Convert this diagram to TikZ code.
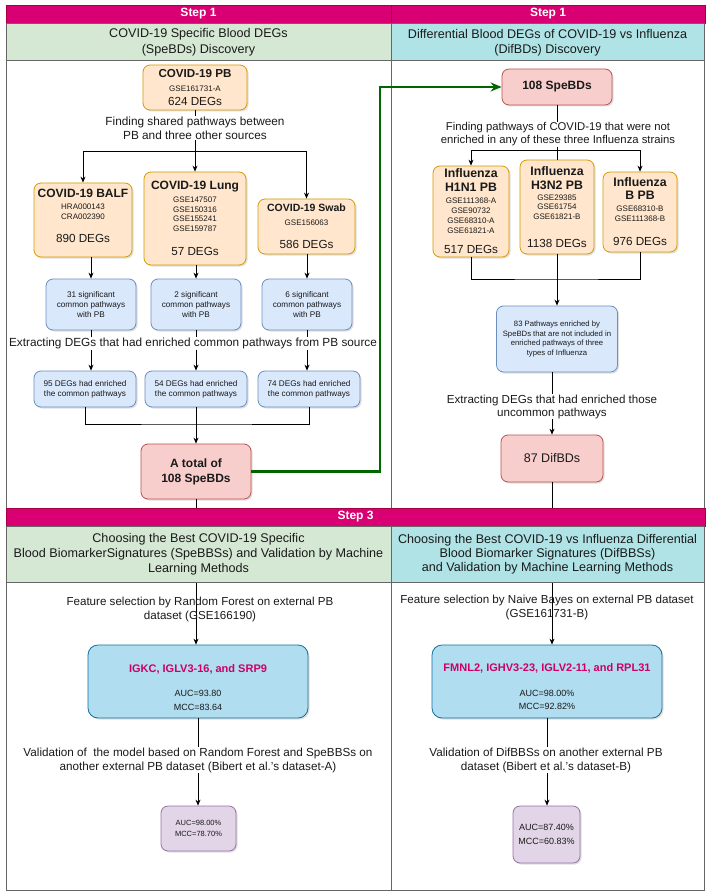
\documentclass[tikz,border=0pt]{standalone}
\usepackage{fontspec}
\setmainfont{Liberation Sans}
\usetikzlibrary{arrows.meta,shadows}
\newcommand\fsz[2]{\fontsize{#1}{#2}\selectfont}
\newcommand\gsm{\fsz{8}{0}}
\newcommand\ttl{\bfseries\fsz{12.3}{0}}
\definecolor{stepc}{HTML}{D80073}
\definecolor{stepd}{HTML}{A50040}
\definecolor{grnF}{HTML}{D5E8D4}
\definecolor{tealF}{HTML}{B0E3E6}
\definecolor{orgF}{HTML}{FFE6CC}
\definecolor{orgD}{HTML}{D79B00}
\definecolor{bluF}{HTML}{DAE8FC}
\definecolor{bluD}{HTML}{6C8EBF}
\definecolor{redF}{HTML}{F8CECC}
\definecolor{redD}{HTML}{B85450}
\definecolor{purF}{HTML}{E1D5E7}
\definecolor{purD}{HTML}{9673A6}
\definecolor{cyaF}{HTML}{B1DDF0}
\definecolor{cyaD}{HTML}{10739E}
\definecolor{pinkT}{HTML}{CC0066}
\definecolor{grnA}{HTML}{006600}
\definecolor{frameC}{HTML}{666666}
\definecolor{txtC}{HTML}{1A1A1A}
\pgfdeclarelayer{fg}
\pgfsetlayers{main,fg}
\begin{document}
\begin{tikzpicture}[x=1pt,y=-1pt,
  box/.style={rounded corners=7pt, line width=0.8pt, align=center, inner sep=0pt,
    drop shadow={shadow xshift=1.5pt,shadow yshift=-1.5pt,opacity=0.25},
    font={\fsz{11.7}{0}\lineskiplimit=-100pt}, text=txtC},
  orange/.style={box, draw=orgD, fill=orgF},
  blue/.style={box, draw=bluD, fill=bluF, font={\fsz{8.2}{10}}},
  red/.style={box, draw=redD, fill=redF},
  purple/.style={box, draw=purD, fill=purF},
  cyan/.style={box, draw=cyaD, fill=cyaF, rounded corners=10pt},
  lbl/.style={align=center, inner sep=1pt, text=txtC},
  wlbl/.style={lbl, fill=white},
  ln/.style={draw=black, line width=0.8pt},
  arr/.style={draw=black, line width=0.8pt, -{Stealth[length=6pt,width=5pt]}},
  garr/.style={draw=grnA, line width=2.2pt, -{Stealth[length=11pt,width=9pt]}},
  stepbar/.style={fill=stepc, draw=stepd, line width=0.4pt, text=white, font={\fsz{12}{14}\bfseries}, inner sep=0pt},
  hdr/.style={draw=frameC, line width=0.6pt, align=center, inner sep=0pt, text=txtC},
  panel/.style={draw=frameC, line width=0.8pt}]
\useasboundingbox (0,0) rectangle (708,893);
\fill[white] (0,0) rectangle (708,893);

% panels
\draw[panel] (6,60) rectangle (391,508);
\draw[panel] (391,60) rectangle (704,508);
\draw[panel] (6,582) rectangle (391,890);
\draw[panel] (391,582) rectangle (704,890);

% headers
\begin{pgfonlayer}{fg}
\node[stepbar, minimum width=385pt, minimum height=18pt] (s1L) at (198.5,14) {Step 1};
\node[stepbar, minimum width=314pt, minimum height=18pt] (s1R) at (548,14) {Step 1};
\node[hdr, fill=grnF, minimum width=385pt, minimum height=37pt, font=\fsz{12.6}{16}, text height=27.5pt, text depth=2.7pt] (h1L) at (198.5,41.5) {COVID-19 Specific Blood DEGs\\(SpeBDs) Discovery};
\node[hdr, fill=tealF, minimum width=313pt, minimum height=37pt, font=\fsz{12.6}{15}, text height=26pt, text depth=2.7pt] (h1R) at (547.5,41.5) {Differential Blood DEGs of COVID-19 vs Influenza\\(DifBDs) Discovery};
\node[stepbar, minimum width=699pt, minimum height=18pt] (s3) at (355.5,517) {Step 3};
\node[hdr, fill=grnF, minimum width=385pt, minimum height=56pt, font=\fsz{12.6}{15}] (h3L) at (198.5,554) {Choosing the Best COVID-19 Specific\\Blood BiomarkerSignatures (SpeBBSs) and Validation by Machine\\Learning Methods};
\node[hdr, fill=tealF, minimum width=313pt, minimum height=56pt, font=\fsz{12.6}{14}] (h3R) at (547.5,554) {Choosing the Best COVID-19 vs Influenza Differential\\Blood Biomarker Signatures (DifBBSs)\\and Validation by Machine Learning Methods};
\end{pgfonlayer}

% left column boxes
\node[orange, minimum width=104pt, minimum height=45pt] (PB) at (195,87.5) {{\bfseries\fsz{11.6}{0}COVID-19 PB}\\[14pt]{\gsm GSE161731-A}\\[14pt]624 DEGs};
\node[orange, minimum width=98pt, minimum height=74pt, text depth=9pt] (BALF) at (83,220) {{\bfseries\fsz{12}{0}COVID-19 BALF}\\[12pt]{\gsm HRA000143}\\[10pt]{\gsm CRA002390}\\[23pt]890 DEGs};
\node[orange, minimum width=102pt, minimum height=93pt] (Lung) at (195,218.5) {{\bfseries\fsz{12}{0}COVID-19 Lung}\\[13pt]{\gsm GSE147507}\\[9.5pt]{\gsm GSE150316}\\[9.5pt]{\gsm GSE155241}\\[9.5pt]{\gsm GSE159787}\\[24pt]57 DEGs};
\node[orange, minimum width=97pt, minimum height=55pt] (Swab) at (306.5,226.5) {{\bfseries\fsz{10.5}{0}COVID-19 Swab}\\[14pt]{\gsm GSE156063}\\[23pt]586 DEGs};

\node[blue, minimum width=90pt, minimum height=51pt] (B1) at (91,304.5) {31 significant\\common pathways\\with PB};
\node[blue, minimum width=90pt, minimum height=51pt] (B2) at (196,304.5) {2 significant\\common pathways\\with PB};
\node[blue, minimum width=90pt, minimum height=51pt] (B3) at (307,304.5) {6 significant\\common pathways\\with PB};

\node[blue, minimum width=102pt, minimum height=36pt] (C1) at (85,389) {95 DEGs had enriched\\the common pathways};
\node[blue, minimum width=102pt, minimum height=36pt] (C2) at (196,389) {54 DEGs had enriched\\the common pathways};
\node[blue, minimum width=102pt, minimum height=36pt] (C3) at (309,389) {74 DEGs had enriched\\the common pathways};

\node[red, minimum width=110pt, minimum height=55pt, font={\fsz{12}{15}\bfseries}] (Tot) at (196,471.5) {A total of\\108 SpeBDs};

% right column boxes
\node[red, minimum width=110pt, minimum height=36pt, font={\fsz{12}{14}\bfseries}] (Sp) at (557,87) {108 SpeBDs};
\node[orange, minimum width=76pt, minimum height=91pt] (H1) at (471,211.5) {{\ttl Influenza}\\[14pt]{\ttl H1N1 PB}\\[12pt]{\gsm GSE111368-A}\\[10pt]{\gsm GSE90732}\\[10pt]{\gsm GSE68310-A}\\[10pt]{\gsm GSE61821-A}\\[20pt]517 DEGs};
\node[orange, minimum width=74pt, minimum height=94pt] (H3) at (557,207) {{\ttl Influenza}\\[14pt]{\ttl H3N2 PB}\\[11pt]{\gsm GSE29385}\\[9.5pt]{\gsm GSE61754}\\[9.5pt]{\gsm GSE61821-B}\\[28pt]1138 DEGs};
\node[orange, minimum width=74pt, minimum height=80pt] (BP) at (640,212) {{\ttl Influenza}\\[13pt]{\ttl B PB}\\[12pt]{\gsm GSE68310-B}\\[10pt]{\gsm GSE111368-B}\\[24pt]976 DEGs};
\node[blue, minimum width=121pt, minimum height=66pt, font=\fsz{7.7}{9.7}] (P83) at (557,339) {83 Pathways enriched by\\SpeBDs that are not included in\\enriched pathways of three\\types of Influenza};
\node[red, minimum width=102pt, minimum height=47pt, font=\fsz{12.5}{14}] (Dif) at (552,458.5) {87 DifBDs};

% step 3 boxes
\node[cyan, minimum width=220pt, minimum height=73pt, font={\fsz{9}{0}\lineskiplimit=-100pt}, text height=57pt, text depth=0pt] (IG) at (198,681.5) {{\color{pinkT}\bfseries\fsz{11}{0}IGKC, IGLV3-16, and SRP9}\\[24pt]AUC=93.80\\[14pt]MCC=83.64};
\node[cyan, minimum width=230pt, minimum height=73pt, font={\fsz{9}{0}\lineskiplimit=-100pt}, text height=55pt, text depth=0pt] (FM) at (547,681.5) {{\color{pinkT}\bfseries\fsz{11}{0}FMNL2, IGHV3-23, IGLV2-11, and RPL31}\\[25pt]AUC=98.00\%\\[13pt]MCC=92.82\%};
\node[purple, minimum width=75pt, minimum height=45pt, font=\fsz{7.5}{11}] (PL) at (198.5,828.5) {AUC=98.00\%\\MCC=78.70\%};
\node[purple, minimum width=67pt, minimum height=57pt, font=\fsz{9}{14}] (PR) at (546.5,834.5) {AUC=87.40\%\\MCC=60.83\%};

% connectors left
\coordinate (br1) at (195,151);
\draw[ln] (PB.south) -- (br1);
\draw[arr] (br1) -| (BALF.north);
\draw[arr] (br1) -- (Lung.north);
\draw[arr] (br1) -| (Swab.north);
\draw[arr] (B1.north |- BALF.south) -- (B1.north);
\draw[arr] (B2.north |- Lung.south) -- (B2.north);
\draw[arr] (B3.north |- Swab.south) -- (B3.north);
\draw[arr] (B1.south) -- (B1.south |- C1.north);
\draw[arr] (B2.south) -- (B2.south |- C2.north);
\draw[arr] (B3.south) -- (B3.south |- C3.north);
\coordinate (mg1) at (196,424);
\draw[ln] (C1.south) |- (mg1) -| (C3.south);
\draw[arr] (C2.south) -- (Tot.north);
\coordinate (gc) at (380,280);
\draw[garr] (Tot.east) -| (gc) |- (Sp.west);

% connectors right
\coordinate (br2) at (557,150);
\draw[ln] (Sp.south) -- (H3.north);
\draw[arr] (br2) -| (H1.north);
\draw[arr] (br2) -| (BP.north);
\coordinate (mg2) at (557,279);
\draw[ln] (H1.south) |- (mg2) -| (BP.south);
\draw[arr] (H3.south) -- (P83.north);
\draw[arr] (Dif.north |- P83.south) -- (Dif.north);

% connectors step 3
\draw[arr] (Dif.south) -- (Dif.south |- FM.north);
\draw[arr] (Tot.south) -- (Tot.south |- IG.north);
\draw[arr] (IG.south) -- (IG.south |- PL.north);
\draw[arr] (FM.south) -- (FM.south |- PR.north);

% labels
\node[wlbl, font=\fsz{11.8}{14}] (L1) at (195,128) {Finding shared pathways between\\PB and three other sources};
\node[wlbl, font=\fsz{11.8}{14}] (L2) at (193,343) {Extracting DEGs that had enriched common pathways from PB source};
\node[wlbl, font=\fsz{11.3}{13}] (L3) at (558,134.5) {Finding pathways of COVID-19 that were not\\enriched in any of these three Influenza strains};
\node[wlbl, font=\fsz{11.6}{13}] (L4) at (552,406.5) {Extracting DEGs that had enriched those\\uncommon pathways};
\node[lbl, font=\fsz{11.6}{14}] (L5) at (200,609) {Feature selection by Random Forest on external PB\\dataset (GSE166190)};
\node[lbl, font=\fsz{11.6}{14}] (L6) at (547,607) {Feature selection by Naive Bayes on external PB dataset\\(GSE161731-B)};
\node[wlbl, font=\fsz{11.7}{14}] (L7) at (198,760) {Validation of\ \ the model based on Random Forest and SpeBBSs on\\another external PB dataset (Bibert et al.'s dataset-A)};
\node[wlbl, font=\fsz{11.7}{14}] (L8) at (546,760) {Validation of DifBBSs on another external PB\\dataset (Bibert et al.'s dataset-B)};
\end{tikzpicture}
\end{document}
